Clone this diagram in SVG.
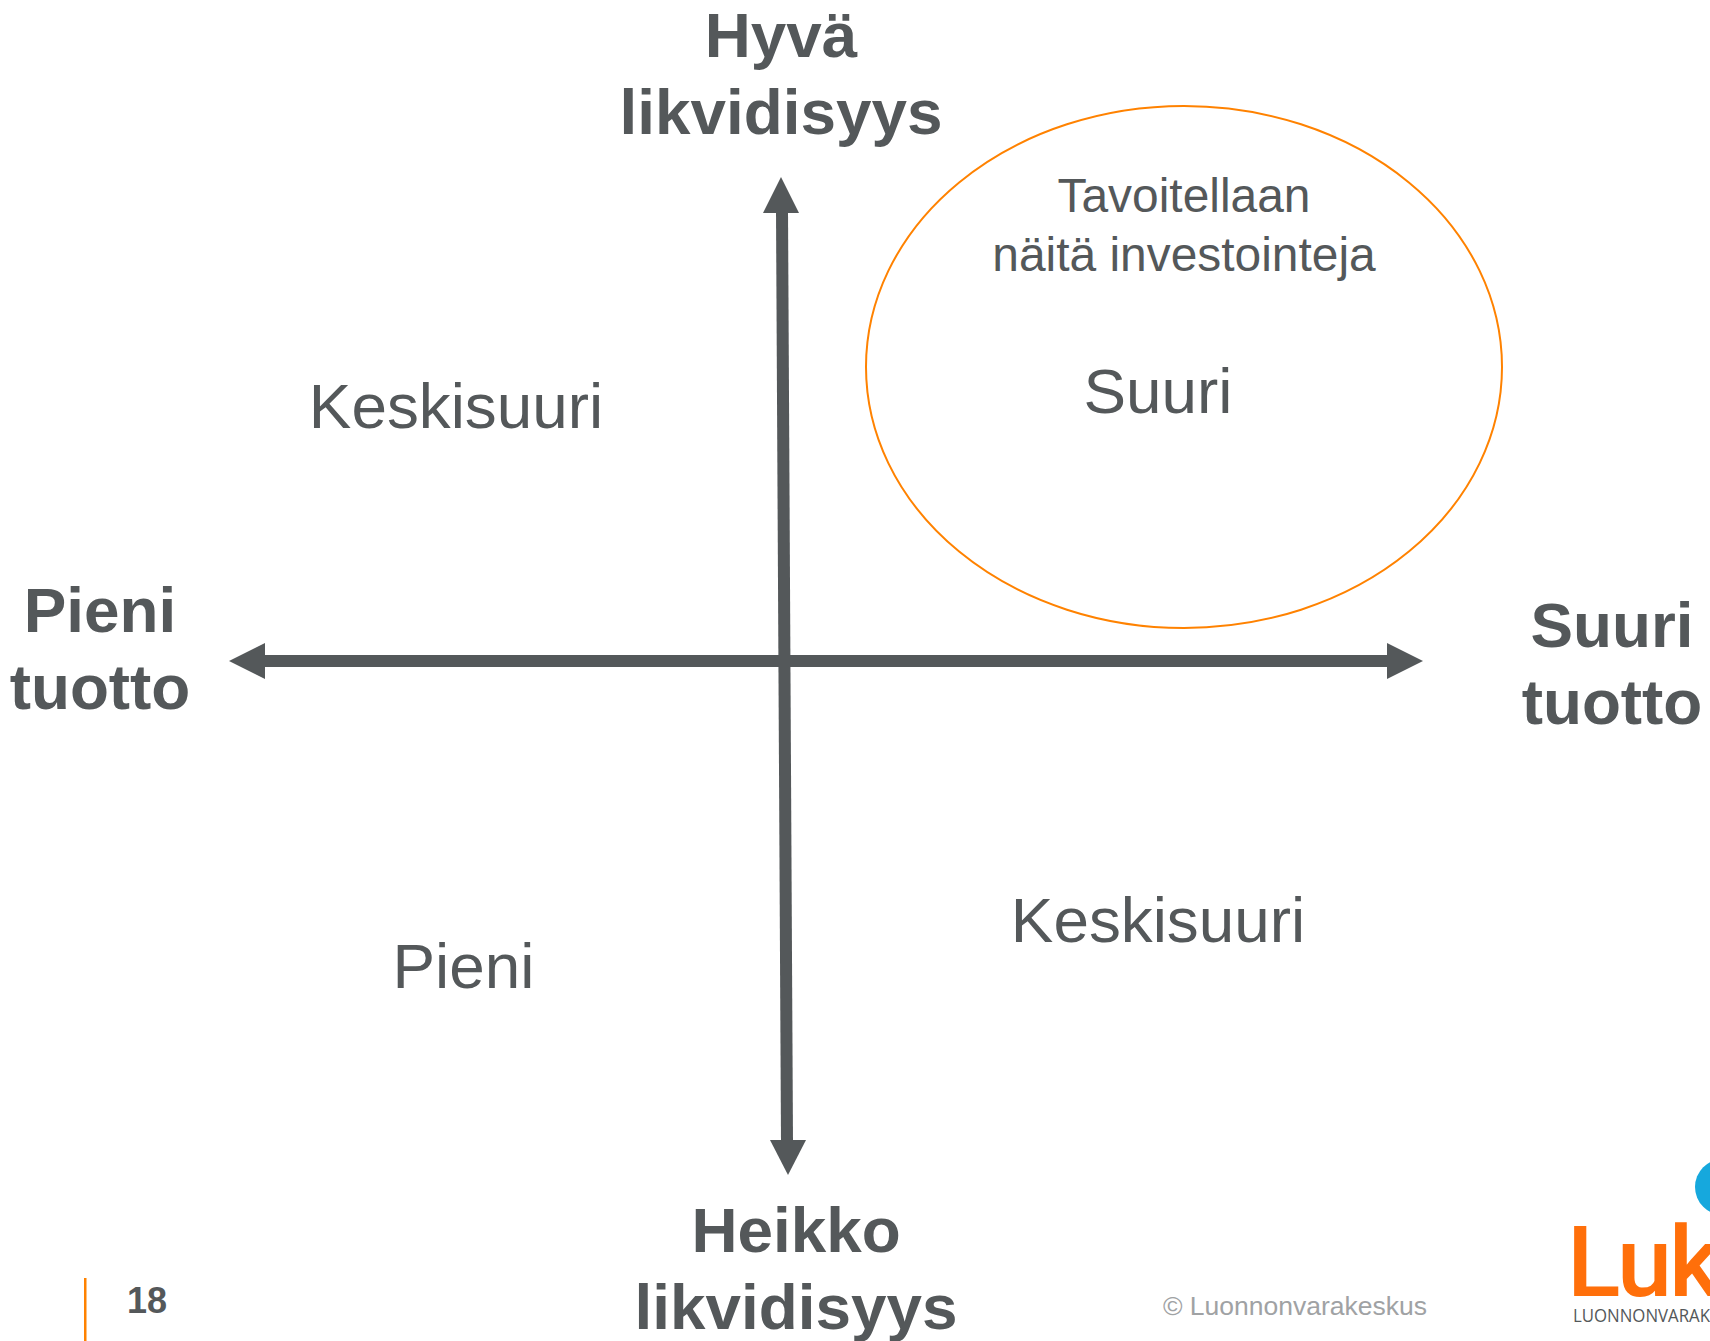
<svg xmlns="http://www.w3.org/2000/svg" width="1710" height="1341" viewBox="0 0 1710 1341">
<style>
text{font-family:"Liberation Sans",Arial,sans-serif;fill:#54585a;text-anchor:middle}
.axis{font-size:63.8px;font-weight:bold}
.cell{font-size:63.8px}
.note{font-size:47.9px}
.line{stroke:#54585a;stroke-width:12;fill:none}
.head{fill:#54585a}
</style>
<rect width="1710" height="1341" fill="#fff"/>
<g id="connectors">
<line class="line" x1="782" y1="210" x2="787" y2="1142"/>
<polygon class="head" points="781,177 799,213 763,213"/>
<polygon class="head" points="788,1175 770,1140 806,1140"/>
<line class="line" x1="262" y1="661" x2="1390" y2="661"/>
<polygon class="head" points="229,661 265,643 265,679"/>
<polygon class="head" points="1423,661 1387,643 1387,679"/>
</g>
<g id="node-top"><text class="axis" x="781" y="57">Hyvä</text><text class="axis" x="781" y="134">likvidisyys</text></g>
<g id="node-left"><text class="axis" x="100" y="632">Pieni</text><text class="axis" x="100" y="709">tuotto</text></g>
<g id="node-right"><text class="axis" x="1612" y="647">Suuri</text><text class="axis" x="1612" y="724">tuotto</text></g>
<g id="node-bottom"><text class="axis" x="796" y="1252">Heikko</text><text class="axis" x="796" y="1329">likvidisyys</text></g>
<g id="node-target">
<ellipse cx="1184" cy="367" rx="318" ry="261" fill="none" stroke="#ff8200" stroke-width="2"/>
<text class="note" x="1184" y="212">Tavoitellaan</text>
<text class="note" x="1184" y="270.500">näitä investointeja</text>
<text class="cell" x="1158" y="413">Suuri</text>
</g>
<g id="node-q2"><text class="cell" x="456" y="428">Keskisuuri</text></g>
<g id="node-q3"><text class="cell" x="463.500" y="988">Pieni</text></g>
<g id="node-q4"><text class="cell" x="1158" y="942">Keskisuuri</text></g>
<g id="footer">
<rect x="84" y="1278" width="2.5" height="63" fill="#ff8200"/>
<text x="147" y="1313" font-size="36" font-weight="bold">18</text>
<text x="1295" y="1315" font-size="26.500" style="fill:#a0a2a4">© Luonnonvarakeskus</text>
</g>
<g id="logo">
<ellipse cx="1723" cy="1187" rx="28" ry="28" fill="#16a8dd"/>
<text x="1567 1617 1669" y="1296" font-size="99" font-weight="500" style="font-family:Roboto,sans-serif;fill:#ff6f0a;text-anchor:start">Luk</text>
<text x="1573" y="1322" font-size="18" style="font-family:'Open Sans',sans-serif;text-anchor:start" textLength="137" lengthAdjust="spacingAndGlyphs">LUONNONVARAK</text>
</g>
</svg>
